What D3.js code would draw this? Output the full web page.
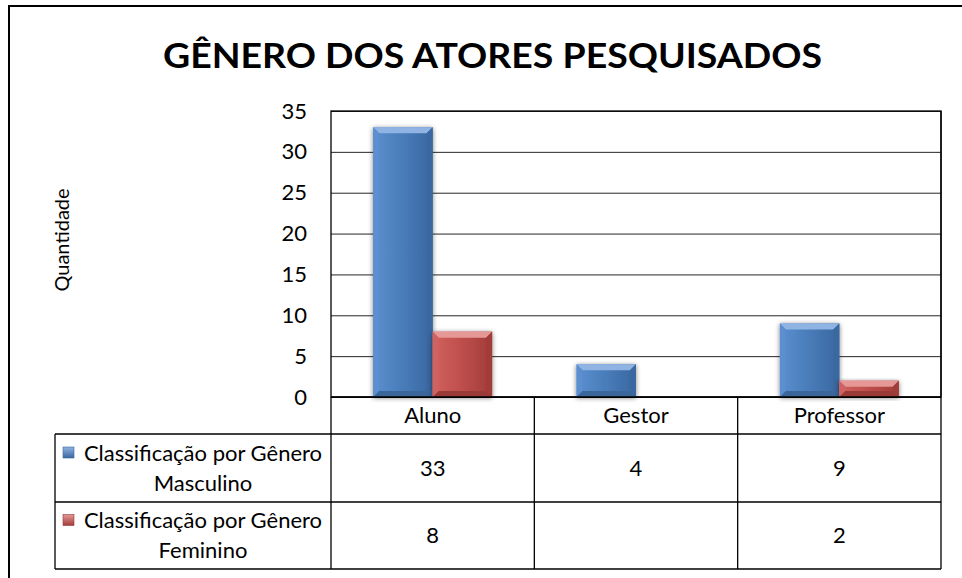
<!DOCTYPE html>
<html>
<head>
<meta charset="utf-8">
<script src="https://cdn.jsdelivr.net/npm/d3@7"></script>
<style>
  body { margin: 0; background: #fff; }
  svg text { font-family: Lato, "Noto Sans", sans-serif; fill: #000; }
</style>
</head>
<body>
<div id="chart"></div>
<script>
var categories = ['Aluno', 'Gestor', 'Professor'];
var seriesNames = ['Classificação por Gênero Masculino', 'Classificação por Gênero Feminino'];
var masculino = [33, 4, 9];
var feminino = [8, null, 2];
var yTicks = [0, 5, 10, 15, 20, 25, 30, 35];

var w = 962, h = 578;
var plotLeft = 331, plotRight = 941, plotTop = 111, base = 397;
var rowY = [397, 434, 502, 569];
var legendLeft = 55;

var colors = [
  { main: '#4a7ebb', light: '#8fb4e3', mid: '#5b8fd0', dark: '#3a67a0', edge: '#3a6699' },
  { main: '#c0504d', light: '#e59896', mid: '#d0625f', dark: '#a13c39', edge: '#9a3a37' }
];

var svg = d3.select('#chart').append('svg').attr('width', w).attr('height', h);

// outer frame
svg.append('rect').attr('x', 9).attr('y', 6).attr('width', 1200).attr('height', 1200)
  .attr('fill', 'none').attr('stroke', '#000').attr('stroke-width', 2);

svg.append('text').text('GÊNERO DOS ATORES PESQUISADOS')
  .attr('x', 163).attr('y', 68).attr('textLength', 659).attr('lengthAdjust', 'spacingAndGlyphs')
  .style('font-size', '34px').style('font-weight', 'bold');

var x = d3.scaleBand().domain(categories).range([plotLeft, plotRight]);
var x1 = d3.scaleBand().domain([0, 1]).range([0, x.bandwidth()]).paddingOuter(0.71);
var y = d3.scaleLinear().domain([0, 35]).range([base, plotTop]);

// gridlines
svg.append('g').attr('transform', 'translate(' + plotLeft + ',0)')
  .call(d3.axisLeft(y).tickValues(yTicks).tickSize(-(plotRight - plotLeft)).tickFormat(''))
  .call(function (g) {
    g.select('.domain').remove();
    g.selectAll('line').attr('stroke', '#262626');
  });

// tick labels
svg.append('g').attr('transform', 'translate(307,0)')
  .call(d3.axisLeft(y).tickValues(yTicks).tickSize(0).tickPadding(0))
  .call(function (g) {
    g.select('.domain').remove();
    g.selectAll('text').style('font-size', '22px').attr('font-family', null);
  });

svg.append('rect').attr('x', plotLeft).attr('y', plotTop).attr('width', plotRight - plotLeft).attr('height', base - plotTop)
  .attr('fill', 'none').attr('stroke', '#000').attr('stroke-width', 1.3);

svg.append('text').text('Quantidade')
  .attr('transform', 'translate(69,240)rotate(-90)').attr('text-anchor', 'middle')
  .style('font-size', '20px');

// bar shadow
var defs = svg.append('defs');
var f = defs.append('filter').attr('id', 'shadow').attr('x', '-20%').attr('y', '-20%').attr('width', '140%').attr('height', '140%');
f.append('feGaussianBlur').attr('in', 'SourceAlpha').attr('stdDeviation', 2.5);
f.append('feOffset').attr('dx', 0).attr('dy', 1).attr('result', 'b');
f.append('feComponentTransfer').append('feFuncA').attr('type', 'linear').attr('slope', 0.5);
var fm = f.append('feMerge');
fm.append('feMergeNode');
fm.append('feMergeNode').attr('in', 'SourceGraphic');

colors.forEach(function (c, i) {
  var gr = defs.append('linearGradient').attr('id', 'grad' + i).attr('x1', 0).attr('x2', 1).attr('y1', 0).attr('y2', 0);
  gr.append('stop').attr('offset', '0%').attr('stop-color', c.mid);
  gr.append('stop').attr('offset', '45%').attr('stop-color', c.main);
  gr.append('stop').attr('offset', '100%').attr('stop-color', c.dark);
});

var barData = [];
[masculino, feminino].forEach(function (vals, s) {
  vals.forEach(function (v, i) {
    if (v != null) barData.push({ s: s, cat: categories[i], v: v });
  });
});

var bars = svg.append('g').selectAll('g').data(barData).enter().append('g')
  .attr('filter', 'url(#shadow)');

bars.each(function (d) {
  var g = d3.select(this);
  var c = colors[d.s];
  var x0 = x(d.cat) + x1(d.s), bw = x1.bandwidth();
  var y0 = y(d.v), y1 = y(0);
  var b = Math.min(6, (y1 - y0) / 2);
  g.append('rect').attr('x', x0).attr('y', y0).attr('width', bw).attr('height', y1 - y0).attr('fill', 'url(#grad' + d.s + ')');
  // bevel: top, left, right, bottom
  g.append('polygon').attr('points', [[x0, y0], [x0 + bw, y0], [x0 + bw - b, y0 + b], [x0 + b, y0 + b]].join(' '))
    .attr('fill', c.light);
  g.append('polygon').attr('points', [[x0, y0], [x0 + b, y0 + b], [x0 + b, y1 - b], [x0, y1]].join(' '))
    .attr('fill', c.mid);
  g.append('polygon').attr('points', [[x0 + bw, y0], [x0 + bw - b, y0 + b], [x0 + bw - b, y1 - b], [x0 + bw, y1]].join(' '))
    .attr('fill', c.dark);
  g.append('polygon').attr('points', [[x0, y1], [x0 + b, y1 - b], [x0 + bw - b, y1 - b], [x0 + bw, y1]].join(' '))
    .attr('fill', c.edge);
});

// data table
var t = svg.append('g').attr('stroke', '#000').attr('stroke-width', 1.3);
t.append('line').attr('x1', plotLeft).attr('x2', plotRight).attr('y1', base).attr('y2', base);
rowY.slice(1).forEach(function (ry) {
  t.append('line').attr('x1', legendLeft).attr('x2', plotRight).attr('y1', ry).attr('y2', ry);
});
t.append('line').attr('x1', legendLeft).attr('x2', legendLeft).attr('y1', rowY[1]).attr('y2', rowY[3]);
categories.forEach(function (cat) {
  t.append('line').attr('x1', x(cat)).attr('x2', x(cat)).attr('y1', base).attr('y2', rowY[3]);
});
t.append('line').attr('x1', plotRight).attr('x2', plotRight).attr('y1', plotTop).attr('y2', rowY[3]);

svg.append('g').selectAll('text').data(categories).enter().append('text')
  .attr('x', function (d) { return x(d) + x.bandwidth() / 2; })
  .attr('y', (rowY[0] + rowY[1]) / 2).attr('dy', '0.36em').attr('text-anchor', 'middle')
  .style('font-size', '22px').text(function (d) { return d; });

[masculino, feminino].forEach(function (vals, s) {
  var cy = (rowY[s + 1] + rowY[s + 2]) / 2;
  var c = colors[s];
  var words = seriesNames[s].split(' ');
  var lines = [words.slice(0, 3).join(' '), words.slice(3).join(' ')];
  var lt = svg.append('text').attr('x', 203).attr('y', cy).attr('text-anchor', 'middle').style('font-size', '22px');
  lt.append('tspan').attr('x', 203).attr('dy', '-0.32em').text(lines[0]);
  lt.append('tspan').attr('x', 203).attr('dy', '1.36em').text(lines[1]);
  var k = defs.append('linearGradient').attr('id', 'key' + s).attr('x1', 0).attr('x2', 0).attr('y1', 0).attr('y2', 1);
  k.append('stop').attr('offset', '0%').attr('stop-color', c.light);
  k.append('stop').attr('offset', '100%').attr('stop-color', c.dark);
  svg.append('rect').attr('x', 63).attr('y', cy - 21).attr('width', 11).attr('height', 11)
    .attr('fill', 'url(#key' + s + ')').attr('stroke', c.edge).attr('stroke-width', 0.6);
  svg.append('g').selectAll('text').data(vals).enter().append('text')
    .attr('x', function (d, i) { return x(categories[i]) + x.bandwidth() / 2; })
    .attr('y', cy).attr('dy', '0.36em').attr('text-anchor', 'middle')
    .style('font-size', '22px').text(function (d) { return d == null ? '' : d; });
});
</script>
</body>
</html>
